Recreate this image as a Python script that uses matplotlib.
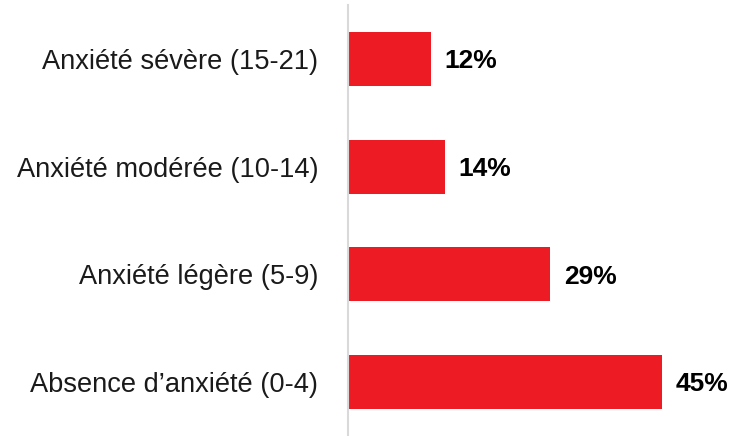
import matplotlib.pyplot as plt

# categories (bottom to top) and values in percent
categories = ["Absence d\u2019anxiété (0-4)", "Anxiété légère (5-9)",
              "Anxiété modérée (10-14)", "Anxiété sévère (15-21)"]
values = [45, 29, 14, 12]
labels = ["45%", "29%", "14%", "12%"]

fig = plt.figure(figsize=(7.35, 4.36), dpi=100)
ax = fig.add_axes([347.5 / 735, 0, 1 - 347.5 / 735, 431 / 436])

ax.barh(range(len(values)), values, height=0.5, color="#ED1C24")

# value labels right of each bar
for i, v in enumerate(values):
    ax.text(v + 1.9, i - 0.02, labels[i], va="center", ha="left",
            fontsize=19, fontweight="bold", family="Liberation Sans")

ax.set_xlim(0, 55.4)
ax.set_ylim(-0.5, 3.5)
ax.set_yticks(range(len(categories)))
ax.set_yticklabels(categories, fontsize=19.6, family="Liberation Sans", color="#1a1a1a")
ax.tick_params(axis="y", length=0, pad=21)
ax.set_xticks([])

for side in ["top", "right", "bottom"]:
    ax.spines[side].set_visible(False)
ax.spines["left"].set_color("#d9d9d9")
ax.spines["left"].set_linewidth(1.5)

fig.savefig("out.png", dpi=100)
